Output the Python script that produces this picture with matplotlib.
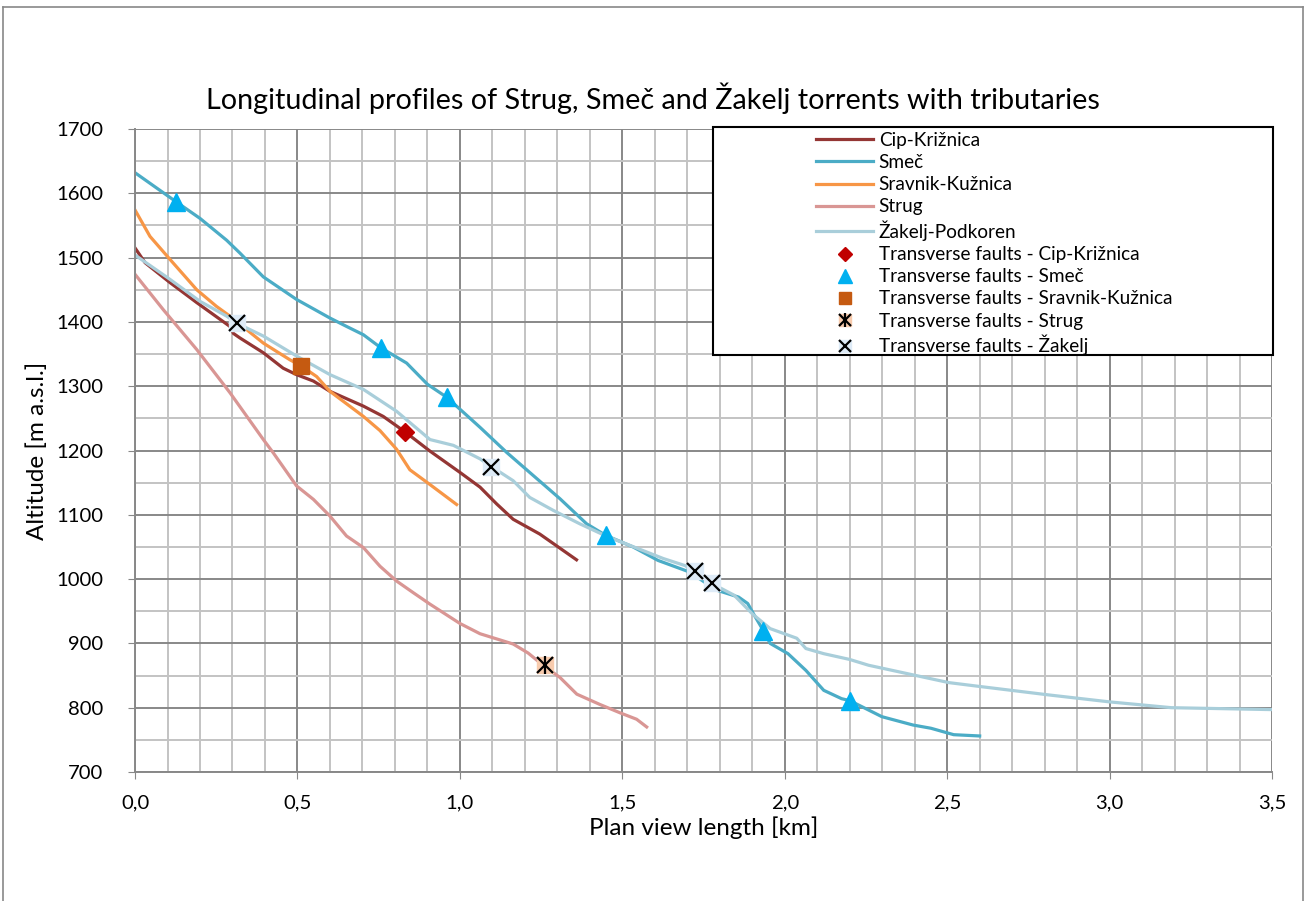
import matplotlib.pyplot as plt
import matplotlib.ticker as mticker
from matplotlib.patches import Rectangle
from matplotlib.lines import Line2D

plt.rcParams['font.family'] = ['Lato', 'DejaVu Sans']

# profiles: plan view length [km], altitude [m a.s.l.]
cip_x = [0, 0.031, 0.108, 0.19, 0.292, 0.303, 0.323, 0.395, 0.456, 0.497, 0.549, 0.6, 0.703, 0.764,
         0.831, 0.908, 1.0, 1.062, 1.113, 1.164, 1.246, 1.359]
cip_y = [1515, 1492, 1461, 1430, 1393, 1382, 1375, 1352, 1328, 1318, 1308, 1292, 1269, 1253,
         1229, 1199, 1166, 1143, 1117, 1093, 1070, 1030]

smec_x = [0, 0.126, 0.2, 0.282, 0.323, 0.395, 0.497, 0.6, 0.651, 0.703, 0.756, 0.836, 0.9, 0.959,
          1.062, 1.144, 1.226, 1.308, 1.39, 1.449, 1.533, 1.61, 1.707, 1.789, 1.858, 1.886, 1.906,
          1.934, 1.955, 2.01, 2.065, 2.12, 2.175, 2.2, 2.299, 2.395, 2.45, 2.52, 2.60]
smec_y = [1632, 1587, 1561, 1527, 1507, 1470, 1435, 1406, 1393, 1380, 1360, 1336, 1303, 1283,
          1236, 1197, 1161, 1125, 1086, 1068, 1050, 1029, 1011, 983, 972, 962, 944,
          920, 900, 884, 858, 827, 814, 811, 786, 773, 768, 758, 756]

srav_x = [0, 0.046, 0.108, 0.19, 0.251, 0.292, 0.395, 0.477, 0.51, 0.559, 0.6, 0.703, 0.754, 0.805,
          0.846, 0.908, 0.99]
srav_y = [1574, 1533, 1497, 1450, 1424, 1409, 1367, 1341, 1332, 1315, 1292, 1253, 1231, 1202,
          1170, 1147, 1116]

strug_x = [0, 0.087, 0.19, 0.292, 0.395, 0.426, 0.497, 0.549, 0.6, 0.651, 0.703, 0.754, 0.805,
           0.856, 0.908, 1.0, 1.062, 1.164, 1.21, 1.256, 1.308, 1.36, 1.431, 1.493, 1.544, 1.575]
strug_y = [1474, 1419, 1357, 1290, 1217, 1196, 1145, 1124, 1098, 1067, 1049, 1020, 997,
           979, 961, 931, 915, 899, 885, 866, 847, 821, 805, 792, 782, 770]

zak_x = [0, 0.108, 0.2, 0.282, 0.313, 0.395, 0.497, 0.6, 0.703, 0.805, 0.908, 0.98, 1.062, 1.097,
         1.164, 1.215, 1.287, 1.369, 1.45, 1.626, 1.693, 1.723, 1.776, 1.844, 1.9, 1.955, 2.037,
         2.065, 2.12, 2.2, 2.258, 2.395, 2.505, 2.6, 2.81, 3.0, 3.19, 3.5]
zak_y = [1504, 1466, 1432, 1409, 1398, 1378, 1347, 1318, 1295, 1261, 1217, 1208, 1187, 1175,
         1153, 1127, 1107, 1086, 1067, 1032, 1021, 1012, 993, 975, 946, 923, 908,
         892, 884, 875, 866, 851, 839, 833, 820, 809, 800, 797]

# transverse faults
f_cip_x, f_cip_y = [0.831], [1229]
f_smec_x = [0.126, 0.756, 0.959, 1.449, 1.934, 2.2]
f_smec_y = [1587, 1360, 1283, 1068, 920, 811]
f_srav_x, f_srav_y = [0.51], [1332]
f_strug_x, f_strug_y = [1.262], [866]
f_zak_x = [0.313, 1.097, 1.723, 1.776]
f_zak_y = [1398, 1175, 1013, 994]

fig = plt.figure(figsize=(13.06, 9.01), dpi=100)
ax = fig.add_axes([0.1034, 0.1432, 0.8706, 0.7136])

lw = 2.3
l1, = ax.plot(cip_x, cip_y, color='#943634', lw=lw, label='Cip-Križnica')
l2, = ax.plot(smec_x, smec_y, color='#4BACC6', lw=lw, label='Smeč')
l3, = ax.plot(srav_x, srav_y, color='#F79646', lw=lw, label='Sravnik-Kužnica')
l4, = ax.plot(strug_x, strug_y, color='#D99694', lw=lw, label='Strug')
l5, = ax.plot(zak_x, zak_y, color='#A9CEDA', lw=lw, label='Žakelj-Podkoren')

m1, = ax.plot(f_cip_x, f_cip_y, 'D', color='#C00000', ms=9, ls='none')
m2, = ax.plot(f_smec_x, f_smec_y, '^', color='#00B0F0', ms=13, ls='none')
m3, = ax.plot(f_srav_x, f_srav_y, 's', color='#C55A11', ms=12, ls='none')
m4a, = ax.plot(f_strug_x, f_strug_y, 's', color='#F8CBAD', ms=12, ls='none')
m4b, = ax.plot(f_strug_x, f_strug_y, 'x', color='black', ms=11, mew=1.6, ls='none')
m4c, = ax.plot(f_strug_x, f_strug_y, '|', color='black', ms=13, mew=1.6, ls='none')
m5a, = ax.plot(f_zak_x, f_zak_y, 's', color='#DEEBF7', ms=12, ls='none')
m5b, = ax.plot(f_zak_x, f_zak_y, 'x', color='black', ms=11, mew=1.6, ls='none')

ax.set_xlim(0, 3.5)
ax.set_ylim(700, 1700)
ax.xaxis.set_major_locator(mticker.MultipleLocator(0.5))
ax.xaxis.set_minor_locator(mticker.MultipleLocator(0.1))
ax.yaxis.set_major_locator(mticker.MultipleLocator(100))
ax.yaxis.set_minor_locator(mticker.MultipleLocator(50))
ax.xaxis.set_major_formatter(mticker.FuncFormatter(lambda v, p: f'{v:.1f}'.replace('.', ',')))

ax.set_axisbelow(True)
ax.grid(which='major', color='#888888', lw=1.4)
ax.grid(which='minor', color='#C3C3C3', lw=1.4)
for s in ['top', 'right']:
    ax.spines[s].set_visible(False)
for s in ['left', 'bottom']:
    ax.spines[s].set_color('#888888')
    ax.spines[s].set_linewidth(1.4)
ax.tick_params(which='major', length=5, color='#888888', labelsize=14.6)
ax.tick_params(axis='y', pad=18)
ax.tick_params(axis='x', pad=11)
ax.tick_params(which='minor', length=0)

ax.set_xlabel('Plan view length [km]', fontsize=17.5, labelpad=4)
ax.set_ylabel('Altitude [m a.s.l.]', fontsize=17.5, labelpad=6)
fig.text(0.5, 0.879, 'Longitudinal profiles of Strug, Smeč and Žakelj torrents with tributaries',
         ha='center', va='baseline', fontsize=20.7)

# legend box
fig.add_artist(Rectangle((713 / 1306, 1 - 355 / 901), (1273 - 713) / 1306, (355 - 127) / 901,
                         transform=fig.transFigure, facecolor='white', edgecolor='black',
                         lw=1.5, zorder=4))
handles = [l1, l2, l3, l4, l5, m1, m2, m3, (m4a, m4b, m4c), (m5a, m5b)]
labels = ['Cip-Križnica', 'Smeč', 'Sravnik-Kužnica', 'Strug', 'Žakelj-Podkoren',
          'Transverse faults - Cip-Križnica', 'Transverse faults - Smeč',
          'Transverse faults - Sravnik-Kužnica', 'Transverse faults - Strug',
          'Transverse faults - Žakelj']
leg = fig.legend(handles, labels, loc='upper left', bbox_to_anchor=(816 / 1306, 1 - 132 / 901),
                 frameon=False, fontsize=13.7, handlelength=3.0, handletextpad=0.3,
                 labelspacing=0.27, borderpad=0, borderaxespad=0, markerscale=0.75,
                 numpoints=1)
leg.set_zorder(5)

# outer frame of the chart
for xs, ys in [([0.002, 0.002], [0, 0.992]), ([0.002, 0.998], [0.992, 0.992]),
               ([0.998, 0.998], [0, 0.992])]:
    fig.add_artist(Line2D(xs, ys, color='#888888', lw=1.2, transform=fig.transFigure))

fig.savefig('out.png', dpi=100)
